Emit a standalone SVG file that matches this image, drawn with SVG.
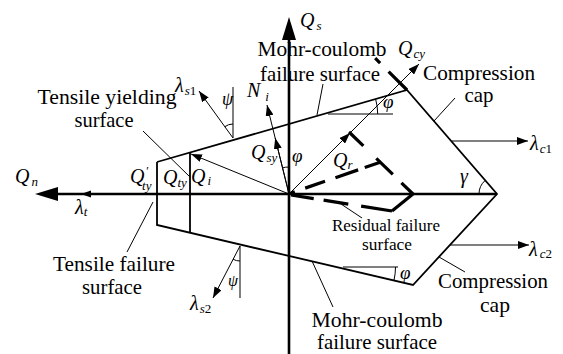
<svg xmlns="http://www.w3.org/2000/svg" width="563" height="354" viewBox="0 0 563 354" font-family="'Liberation Serif', 'DejaVu Serif', serif">
<style>
text{font-family:'Liberation Serif','DejaVu Serif',serif;fill:#000}
.lb{font-size:21px;text-anchor:middle}
.sm{font-size:17px;text-anchor:middle}
.m{font-style:italic;font-size:20px}
.sb{font-style:italic;font-size:13px}
.up{font-style:normal}
.g{font-style:italic;font-size:19px}
.ax{stroke:#000;stroke-width:2.6;fill:none}
.sf{stroke:#000;stroke-width:1.8;fill:none}
.th{stroke:#000;stroke-width:1;fill:none}
.ds{stroke:#000;stroke-width:3.2;fill:none}
</style>
<defs>
<marker id="ah" markerUnits="userSpaceOnUse" markerWidth="11" markerHeight="8" refX="11" refY="4" orient="auto">
<path d="M0,0 L11,4 L0,8 z" fill="#000"/>
</marker>
</defs>
<rect width="563" height="354" fill="#fff"/>

<g id="axes">
<line class="ax" x1="289" y1="38" x2="289" y2="354"/>
<polygon points="289,17 282,40 296,40" fill="#000"/>
<line class="ax" x1="56" y1="194" x2="497" y2="194"/>
<polygon points="35,194 58,187 58,201" fill="#000"/>
<polygon points="81,194 91,190.5 91,197.5" fill="#000"/>
</g>

<g id="surfaces">
<polyline class="sf" points="157,162 407,90 497,194 413,285 157,225 157,162"/>
<line class="sf" x1="190" y1="152.5" x2="190" y2="232.7"/>
</g>

<g id="residual">
<line class="ds" x1="349" y1="132" x2="413" y2="194" stroke-dasharray="20 18 23 12 17"/>
<line class="ds" x1="413" y1="194" x2="392" y2="211"/>
<line class="ds" x1="291" y1="195" x2="392" y2="211" stroke-dasharray="23 10 25 13 40"/>
<line class="ds" x1="291" y1="193" x2="381" y2="162" stroke-dasharray="4 11 21 11 24 7 20"/>
<line class="ds" x1="407" y1="90" x2="375" y2="58" stroke-dasharray="26 12 7"/>
</g>

<g id="connectors">
<line class="th" x1="289" y1="194" x2="419" y2="64" marker-end="url(#ah)"/>
<line class="th" x1="289" y1="194" x2="350" y2="133" marker-end="url(#ah)"/>
<line class="th" x1="289" y1="194" x2="267" y2="105" marker-end="url(#ah)"/>
<line class="th" x1="289" y1="194" x2="275.2" y2="138" marker-end="url(#ah)"/>
<line class="th" x1="289" y1="194" x2="191" y2="154" marker-end="url(#ah)"/>
<line class="th" x1="233" y1="138" x2="199" y2="91" marker-end="url(#ah)"/>
<line class="th" x1="240" y1="246" x2="213" y2="298" marker-end="url(#ah)"/>
<line class="th" x1="452" y1="141" x2="528" y2="141" marker-end="url(#ah)"/>
<line class="th" x1="450" y1="245" x2="529" y2="245" marker-end="url(#ah)"/>
<line class="th" x1="233" y1="87" x2="233" y2="138"/>
<line class="th" x1="240" y1="246" x2="240" y2="298"/>
<line class="th" x1="328" y1="114" x2="393" y2="114"/>
<line class="th" x1="343" y1="267" x2="398" y2="267"/>
<path class="th" d="M233,124 A14,14 0 0 0 224.8,126.7"/>
<path class="th" d="M240,261 A15,15 0 0 1 233.1,259.3"/>
<path class="th" d="M289,167 A27,27 0 0 0 282.5,167.8"/>
<path class="th" d="M377.7,114 A54,54 0 0 0 375.6,99.05"/>
<path class="th" d="M395.5,267 A59,59 0 0 1 393.95,280.44"/>
<path class="th" d="M479,194 A18,18 0 0 1 485.2,180.4"/>
<line class="th" x1="317" y1="115" x2="323" y2="84"/>
<line class="th" x1="434" y1="121" x2="455" y2="98"/>
<line class="th" x1="439" y1="257" x2="465" y2="272"/>
<line class="th" x1="312" y1="261" x2="333" y2="307"/>
<line class="th" x1="153" y1="202" x2="127" y2="252"/>
<line class="th" x1="143" y1="131" x2="190" y2="177"/>
<line class="th" x1="338" y1="202" x2="362" y2="218"/>
</g>

<g id="labels">
<text class="lb" x="322" y="56" textLength="129" lengthAdjust="spacingAndGlyphs">Mohr-coulomb</text>
<text class="lb" x="320" y="81" textLength="120" lengthAdjust="spacingAndGlyphs">failure surface</text>
<text class="lb" x="479" y="80" textLength="112" lengthAdjust="spacingAndGlyphs">Compression</text>
<text class="lb" x="479" y="102" textLength="29" lengthAdjust="spacingAndGlyphs">cap</text>
<text class="lb" x="107" y="104" textLength="139" lengthAdjust="spacingAndGlyphs">Tensile yielding</text>
<text class="lb" x="104" y="127" textLength="59" lengthAdjust="spacingAndGlyphs">surface</text>
<text class="sm" x="386" y="231" textLength="108" lengthAdjust="spacingAndGlyphs">Residual failure</text>
<text class="sm" x="387" y="250" textLength="50" lengthAdjust="spacingAndGlyphs">surface</text>
<text class="lb" x="493" y="288" textLength="110" lengthAdjust="spacingAndGlyphs">Compression</text>
<text class="lb" x="495" y="312" textLength="30" lengthAdjust="spacingAndGlyphs">cap</text>
<text class="lb" x="377" y="327" textLength="131" lengthAdjust="spacingAndGlyphs">Mohr-coulomb</text>
<text class="lb" x="377" y="349" textLength="120" lengthAdjust="spacingAndGlyphs">failure surface</text>
<text class="lb" x="114" y="271" textLength="122" lengthAdjust="spacingAndGlyphs">Tensile failure</text>
<text class="lb" x="112" y="294" textLength="60" lengthAdjust="spacingAndGlyphs">surface</text>
</g>

<g id="symbols">
<text class="m" x="300" y="27">Q<tspan class="sb" dx="2" dy="3">s</tspan></text>
<text class="m" x="398" y="55">Q<tspan class="sb" dx="1" dy="3">cy</tspan></text>
<text class="m" x="251" y="159">Q<tspan class="sb" dx="1" dy="3">sy</tspan></text>
<text class="m" x="191" y="183">Q<tspan class="sb" dx="2" dy="2">i</tspan></text>
<text class="m" x="163" y="184">Q<tspan class="sb" dy="3">ty</tspan></text>
<text class="m" x="130" y="183">Q<tspan style="font-size:12px" dx="1" dy="-8">′</tspan><tspan class="sb" dx="-6" dy="15">ty</tspan></text>
<text class="m" x="15" y="183">Q<tspan class="sb" dx="2" dy="3">n</tspan></text>
<text class="m" x="333" y="167">Q<tspan class="sb" dy="2">r</tspan></text>
<text class="m" x="247" y="97">N<tspan class="sb" dx="5" dy="4">i</tspan></text>
<text class="m" x="175" y="92">λ<tspan class="sb" dx="1" dy="3">s<tspan class="up">1</tspan></tspan></text>
<text class="m" x="530" y="150">λ<tspan class="sb" dx="1" dy="3">c<tspan class="up">1</tspan></tspan></text>
<text class="m" x="529" y="256">λ<tspan class="sb" dx="2" dy="2">c<tspan class="up">2</tspan></tspan></text>
<text class="m" x="190" y="310">λ<tspan class="sb" dx="1" dy="3">s<tspan class="up">2</tspan></tspan></text>
<text class="m" x="75" y="214">λ<tspan class="sb" dy="2">t</tspan></text>
<text class="g" style="font-size:18px" x="222" y="105">ψ</text>
<text class="g" style="font-size:16px" x="228" y="286">ψ</text>
<text class="g" x="292" y="162">φ</text>
<text class="g" x="383" y="108">φ</text>
<text class="g" x="400" y="279">φ</text>
<text class="m" x="460" y="183">γ</text>
</g>
</svg>
